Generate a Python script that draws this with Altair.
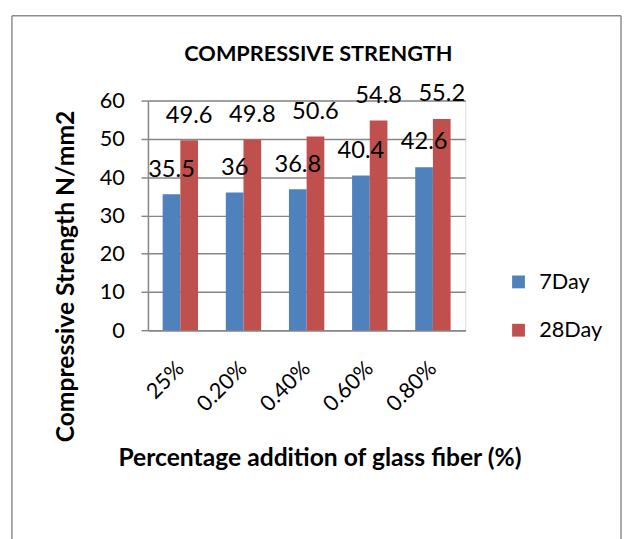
import altair as alt
import pandas as pd

categories = ["25%", "0.20%", "0.40%", "0.60%", "0.80%"]
series = ["7Day", "28Day"]
day7 = [35.5, 36, 36.8, 40.4, 42.6]
day28 = [49.6, 49.8, 50.6, 54.8, 55.2]
y_ticks = [0, 10, 20, 30, 40, 50, 60]
colors = ["#4F81BD", "#C0504D"]
chart_title = "COMPRESSIVE STRENGTH"
x_title = "Percentage addition of glass fiber (%)"
y_title = "Compressive Strength N/mm2"

rows = []
for c, a, b in zip(categories, day7, day28):
    rows.append({"cat": c, "series": series[0], "value": a, "label": f"{a:g}"})
    rows.append({"cat": c, "series": series[1], "value": b, "label": f"{b:g}"})
df = pd.DataFrame(rows)

FONT = "Lato"
GRID = "#868686"
W, H = 322, 233

x_enc = alt.X(
    "cat:N", sort=categories,
    scale=alt.Scale(paddingInner=0.44, paddingOuter=0.233),
    axis=alt.Axis(
        title=x_title, labelAngle=-45, labelAlign="right", labelBaseline="middle",
        labelPadding=35, ticks=False, domainColor=GRID, domainWidth=1.5,
        labelFont=FONT, labelFontSize=22, labelColor="black",
        titleFont=FONT, titleFontSize=25, titleFontWeight="bold", titleColor="black",
        titleX=174, titleY=137, titleAlign="center", titleBaseline="alphabetic",
    ),
)
xoff = alt.XOffset("series:N", sort=series, scale=alt.Scale(paddingInner=0, paddingOuter=0))
y_enc = alt.Y(
    "value:Q",
    scale=alt.Scale(domain=[0, 60], nice=False),
    axis=alt.Axis(
        values=y_ticks, grid=True, gridColor=GRID, gridWidth=1.5,
        domain=True, domainColor=GRID, domainWidth=1.5,
        ticks=True, tickSize=7, tickColor=GRID, tickWidth=1.5,
        labelFont=FONT, labelFontSize=22, labelColor="black", labelPadding=17,
        title=y_title, titleFont=FONT, titleFontSize=25, titleFontWeight="bold",
        titleColor="black", titleAngle=270, titleX=-76, titleY=178,
        titleAlign="center", titleBaseline="alphabetic",
    ),
)
color_enc = alt.Color(
    "series:N", sort=series,
    scale=alt.Scale(domain=series, range=colors),
    legend=alt.Legend(
        title=None, orient="none", legendX=365, legendY=173, padding=0,
        symbolType="square", symbolSize=169, symbolStrokeWidth=0,
        labelFont=FONT, labelFontSize=22, labelColor="black", labelOffset=10,
        rowPadding=27,
    ),
)

bars = alt.Chart(df).mark_bar().encode(x=x_enc, xOffset=xoff, y=y_enc, color=color_enc)
labels = alt.Chart(df).mark_text(
    dy=-18, baseline="alphabetic", align="center", font=FONT, fontSize=24, color="black"
).encode(x=x_enc, xOffset=xoff, y=y_enc, text="label:N")

title_df = pd.DataFrame({"t": [chart_title]})
title_mark = alt.Chart(title_df).mark_text(
    font=FONT, fontSize=22, fontWeight="bold", color="black",
    align="center", baseline="alphabetic",
).encode(text="t:N", x=alt.value(173), y=alt.value(-40))

frame_df = pd.DataFrame({"k": [1]})
fr = dict(color="#8c8c8c", strokeWidth=1.5)
frame_left = alt.Chart(frame_df).mark_rule(**fr).encode(
    x=alt.value(-138), y=alt.value(-86), y2=alt.value(445))
frame_top = alt.Chart(frame_df).mark_rule(**fr).encode(
    x=alt.value(-138), x2=alt.value(480), y=alt.value(-86))
frame_right = alt.Chart(frame_df).mark_rule(**fr).encode(
    x=alt.value(480), y=alt.value(-86), y2=alt.value(445))

chart = alt.layer(
    frame_left, frame_top, frame_right, bars, labels, title_mark
).properties(
    width=W, height=H,
    padding={"left": 3, "top": 3, "right": 0, "bottom": 0},
).configure_view(stroke=None).configure(background="white")

chart.save("out.html", embed_options={"renderer": "svg", "actions": False})
